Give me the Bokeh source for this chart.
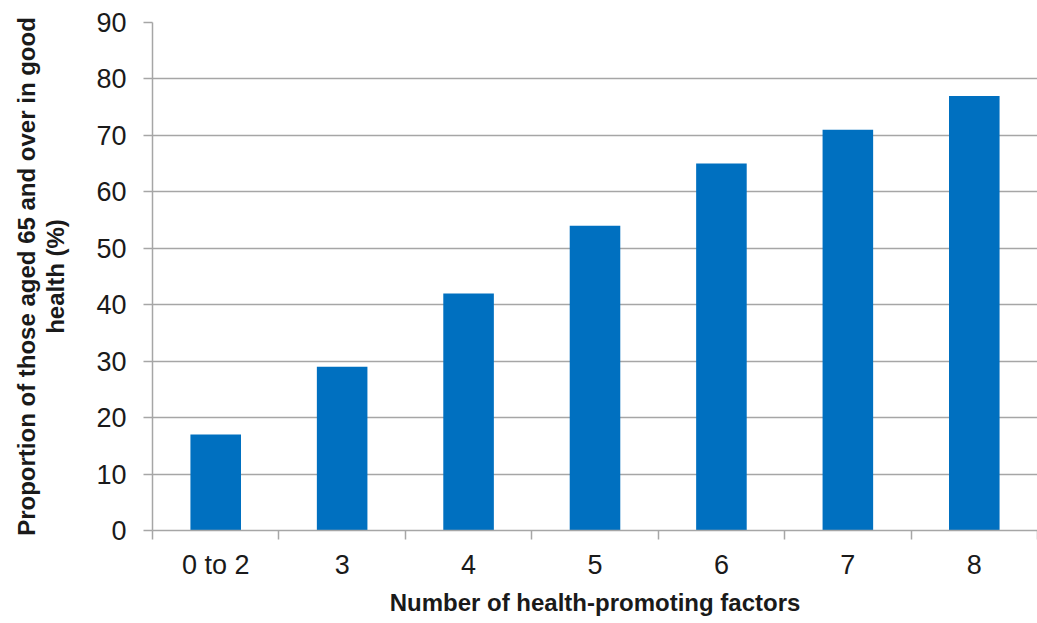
from bokeh.plotting import figure
from bokeh.models import FixedTicker, Range1d
from bokeh.embed import file_html
from bokeh.resources import INLINE

categories = ["0 to 2", "3", "4", "5", "6", "7", "8"]
values = [17, 29, 42, 54, 65, 71, 77]
y_ticks = [0, 10, 20, 30, 40, 50, 60, 70, 80, 90]

xs = [i + 0.5 for i in range(len(categories))]

p = figure(width=1037, height=623, output_backend="svg", toolbar_location=None,
           x_range=Range1d(0, 7), y_range=Range1d(0, 90),
           min_border_left=152, min_border_right=0, min_border_top=22, min_border_bottom=93)
p.outline_line_color = None
p.background_fill_color = "white"
p.border_fill_color = "white"

p.vbar(x=xs, top=values, width=0.4, bottom=0, color="#0070C0", line_color=None)

GRID = "#a6a6a6"
TXT = "#1a1a1a"

# y axis
p.yaxis.ticker = FixedTicker(ticks=y_ticks)
p.yaxis.axis_line_color = GRID
p.yaxis.axis_line_width = 1.5
p.yaxis.major_tick_line_color = GRID
p.yaxis.major_tick_line_width = 1.5
p.yaxis.major_tick_out = 9
p.yaxis.major_tick_in = 0
p.yaxis.minor_tick_line_color = None
p.yaxis.major_label_text_font = "Liberation Sans"
p.yaxis.major_label_text_font_size = "27px"
p.yaxis.major_label_text_color = TXT
p.yaxis.major_label_standoff = 17
p.yaxis.axis_label = "Proportion of those aged 65 and over in good\nhealth (%)"
p.yaxis.axis_label_text_font = "Liberation Sans"
p.yaxis.axis_label_text_font_style = "bold"
p.yaxis.axis_label_text_font_size = "24px"
p.yaxis.axis_label_text_color = TXT
p.yaxis.axis_label_text_line_height = 1.1
p.yaxis.axis_label_standoff = 24

# x axis
p.xaxis.ticker = FixedTicker(ticks=xs, minor_ticks=list(range(len(categories) + 1)))
p.xaxis.major_label_overrides = {x: c for x, c in zip(xs, categories)}
p.xaxis.axis_line_color = GRID
p.xaxis.axis_line_width = 1.5
p.xaxis.major_tick_line_color = None
p.xaxis.minor_tick_line_color = GRID
p.xaxis.minor_tick_line_width = 1.5
p.xaxis.minor_tick_out = 9
p.xaxis.minor_tick_in = 0
p.xaxis.major_tick_out = 9
p.xaxis.major_label_text_font = "Liberation Sans"
p.xaxis.major_label_text_font_size = "27px"
p.xaxis.major_label_text_color = TXT
p.xaxis.major_label_standoff = 10
p.xaxis.axis_label = "Number of health-promoting factors"
p.xaxis.axis_label_text_font = "Liberation Sans"
p.xaxis.axis_label_text_font_style = "bold"
p.xaxis.axis_label_text_font_size = "24px"
p.xaxis.axis_label_text_color = TXT
p.xaxis.axis_label_standoff = 6

p.xgrid.grid_line_color = None
p.ygrid.ticker = FixedTicker(ticks=y_ticks)
p.ygrid.grid_line_color = GRID
p.ygrid.grid_line_width = 1.5

open("out.html", "w").write(file_html(p, INLINE))
